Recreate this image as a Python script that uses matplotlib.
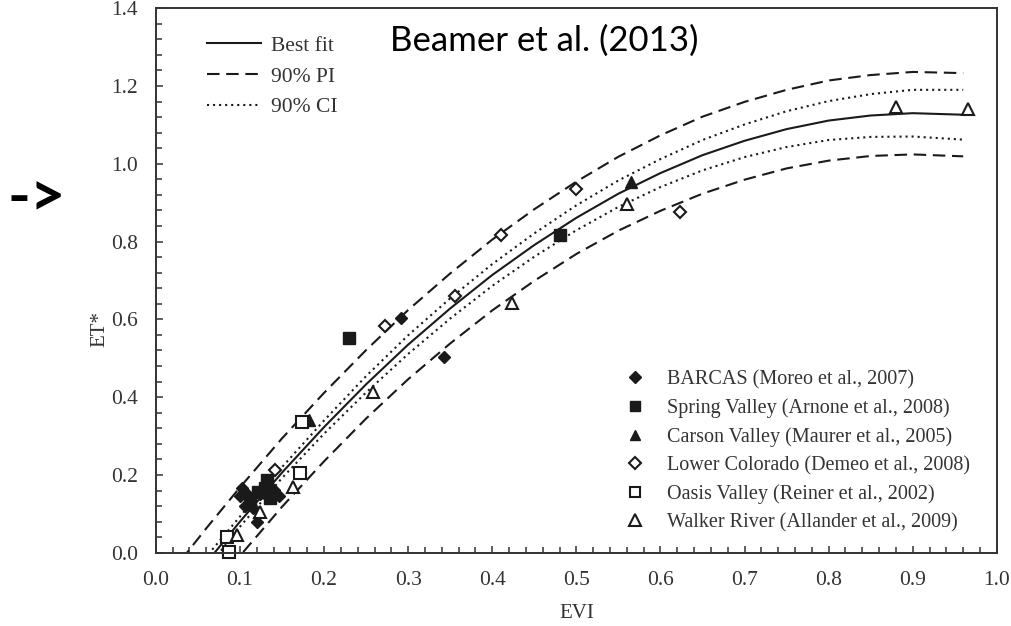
import matplotlib
matplotlib.use("Agg")
import matplotlib.pyplot as plt
from matplotlib.ticker import MultipleLocator
from matplotlib.lines import Line2D

# ---- curve data ----
curve_x = [0.03, 0.06, 0.10, 0.15, 0.20, 0.25, 0.30, 0.35, 0.40, 0.45,
           0.50, 0.55, 0.60, 0.65, 0.70, 0.75, 0.80, 0.85, 0.90, 0.96]
best_fit = [-0.109, -0.026, 0.080, 0.206, 0.323, 0.433, 0.535, 0.628, 0.714, 0.791,
            0.861, 0.923, 0.976, 1.022, 1.059, 1.089, 1.111, 1.124, 1.130, 1.126]
pi_upper = [-0.019, 0.063, 0.168, 0.294, 0.411, 0.521, 0.624, 0.718, 0.805, 0.883,
            0.954, 1.018, 1.073, 1.121, 1.159, 1.190, 1.214, 1.228, 1.236, 1.233]
pi_lower = [-0.199, -0.115, -0.008, 0.118, 0.235, 0.345, 0.446, 0.538, 0.623, 0.699,
            0.768, 0.828, 0.879, 0.923, 0.959, 0.988, 1.008, 1.020, 1.024, 1.019]
ci_upper = [-0.087, -0.010, 0.093, 0.220, 0.340, 0.454, 0.559, 0.654, 0.742, 0.821,
            0.893, 0.957, 1.012, 1.061, 1.101, 1.135, 1.161, 1.179, 1.190, 1.190]
ci_lower = [-0.131, -0.042, 0.067, 0.192, 0.306, 0.412, 0.511, 0.602, 0.686, 0.761,
            0.829, 0.889, 0.940, 0.983, 1.017, 1.043, 1.061, 1.069, 1.070, 1.062]

# ---- point data ----
barcas_x = [0.102, 0.100, 0.110, 0.141, 0.146, 0.106, 0.116, 0.120, 0.124, 0.292, 0.343]
barcas_y = [0.166, 0.145, 0.149, 0.162, 0.145, 0.119, 0.115, 0.080, 0.150, 0.603, 0.504]
spring_x = [0.132, 0.130, 0.122, 0.136, 0.112, 0.230, 0.480]
spring_y = [0.188, 0.167, 0.157, 0.141, 0.130, 0.553, 0.817]
carson_x = [0.182, 0.565]
carson_y = [0.340, 0.952]
lowercol_x = [0.142, 0.273, 0.356, 0.410, 0.500, 0.623]
lowercol_y = [0.213, 0.583, 0.661, 0.818, 0.934, 0.877]
oasis_x = [0.174, 0.171, 0.085, 0.087]
oasis_y = [0.337, 0.205, 0.040, 0.001]
walker_x = [0.096, 0.163, 0.124, 0.258, 0.424, 0.560, 0.880, 0.966]
walker_y = [0.046, 0.170, 0.106, 0.412, 0.643, 0.896, 1.147, 1.142]

line_labels = ["Best fit", "90% PI", "90% CI"]
series_labels = ["BARCAS (Moreo et al., 2007)",
                 "Spring Valley (Arnone et al., 2008)",
                 "Carson Valley (Maurer et al., 2005)",
                 "Lower Colorado (Demeo et al., 2008)",
                 "Oasis Valley (Reiner et al., 2002)",
                 "Walker River (Allander et al., 2009)"]
x_ticks = [0.0, 0.1, 0.2, 0.3, 0.4, 0.5, 0.6, 0.7, 0.8, 0.9, 1.0]
y_ticks = [0.0, 0.2, 0.4, 0.6, 0.8, 1.0, 1.2, 1.4]

serif = "Liberation Serif"
txtc = "#333333"
ink = "#1a1a1a"

fig = plt.figure(figsize=(10.12, 6.26), dpi=100)
ax = fig.add_axes([0.154, 0.117, 0.831, 0.870])

lw = 1.5
dash = (0, (6, 3.2))
dot = (0, (1, 1.9))
ax.plot(curve_x, best_fit, color=ink, lw=lw, ls="-")
ax.plot(curve_x, pi_upper, color=ink, lw=lw, ls=dash)
ax.plot(curve_x, pi_lower, color=ink, lw=lw, ls=dash)
ax.plot(curve_x, ci_upper, color=ink, lw=lw, ls=dot)
ax.plot(curve_x, ci_lower, color=ink, lw=lw, ls=dot)

mew = 1.5
h1, = ax.plot(barcas_x, barcas_y, ls="none", marker="D", ms=6.5, mfc=ink, mec=ink, label=series_labels[0])
h2, = ax.plot(spring_x, spring_y, ls="none", marker="s", ms=8.5, mfc=ink, mec=ink, label=series_labels[1])
h3, = ax.plot(carson_x, carson_y, ls="none", marker="^", ms=8.5, mfc=ink, mec=ink, label=series_labels[2])
h4, = ax.plot(lowercol_x, lowercol_y, ls="none", marker="D", ms=6.5, mfc="white", mec=ink, mew=mew, label=series_labels[3])
h5, = ax.plot(oasis_x, oasis_y, ls="none", marker="s", ms=8.5, mfc="white", mec=ink, mew=mew, label=series_labels[4])
h6, = ax.plot(walker_x, walker_y, ls="none", marker="^", ms=9, mfc="white", mec=ink, mew=mew, label=series_labels[5])
for h in (h4, h5, h6):
    h.set_clip_on(False)

ax.set_xlim(0, 1.0)
ax.set_ylim(0, 1.4)
ax.set_xticks(x_ticks)
ax.set_yticks(y_ticks)
ax.set_xticklabels([f"{v:.1f}" for v in x_ticks])
ax.set_yticklabels([f"{v:.1f}" for v in y_ticks])
ax.xaxis.set_minor_locator(MultipleLocator(0.02))
ax.yaxis.set_minor_locator(MultipleLocator(0.04))
ax.tick_params(which="both", direction="in", top=False, right=False, color=txtc, width=1.1)
ax.tick_params(which="major", length=5, labelsize=15.5, labelcolor=txtc, pad=13)
ax.tick_params(which="minor", length=4)
for lab in ax.get_xticklabels() + ax.get_yticklabels():
    lab.set_fontfamily(serif)
for s in ax.spines.values():
    s.set_color(txtc)
    s.set_linewidth(1.4)

ax.set_xlabel("EVI", fontsize=15, family=serif, color=txtc)
ax.xaxis.set_label_coords(0.5, -0.095)
ax.set_ylabel("ET*", fontsize=15, family=serif, color=txtc)
ax.yaxis.set_label_coords(-0.055, 0.41)

line_handles = [Line2D([], [], color=ink, lw=lw, ls="-"),
                Line2D([], [], color=ink, lw=lw, ls=dash),
                Line2D([], [], color=ink, lw=lw, ls=dot)]
leg1 = ax.legend(line_handles, line_labels, loc="upper left", bbox_to_anchor=(0.038, 0.985),
                 frameon=False, prop={"family": serif, "size": 15.5}, handlelength=2.5,
                 handletextpad=0.45, labelspacing=0.5, labelcolor=txtc)
ax.add_artist(leg1)

ax.legend(handles=[h1, h2, h3, h4, h5, h6], loc="lower right", bbox_to_anchor=(0.99, 0.004),
          frameon=False, prop={"family": serif, "size": 14.5}, handlelength=1.0,
          handletextpad=1.1, labelspacing=0.45, labelcolor=txtc, markerscale=0.9)

fig.text(0.385, 0.918, "Beamer et al. (2013)", family="Lato", fontsize=25, color="black")
fig.text(0.007, 0.655, "->", family="Lato", fontsize=44, fontweight="bold", color="black")

fig.savefig("out.png", dpi=100)
